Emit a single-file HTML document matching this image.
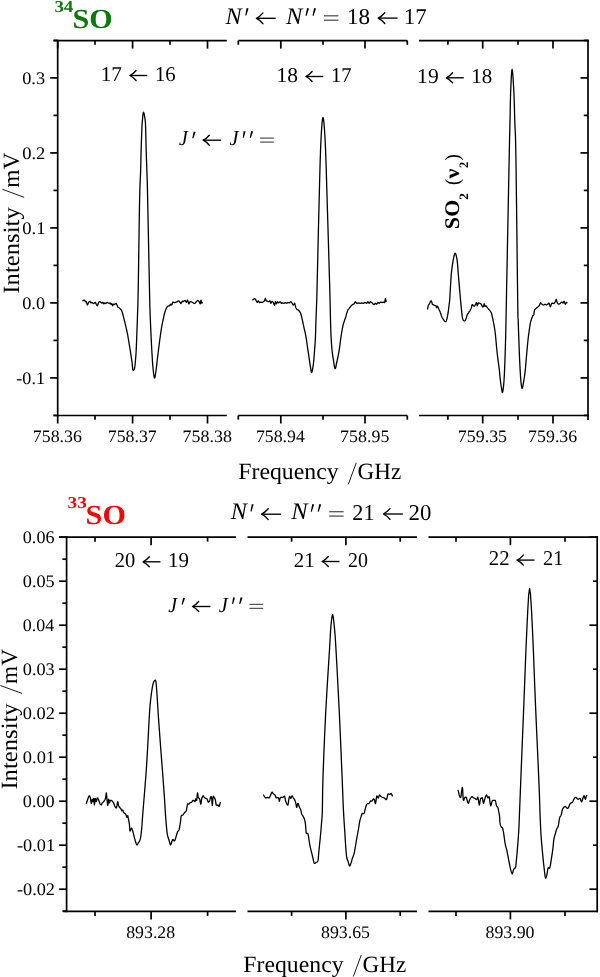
<!DOCTYPE html><html><head><meta charset="utf-8"><style>html,body{margin:0;padding:0;background:#fff;}svg{display:block;will-change:transform;text-rendering:geometricPrecision;}</style></head><body><svg width="600" height="977" viewBox="0 0 600 977">
<rect width="600" height="977" fill="#fff"/>
<line x1="53.50" y1="40.60" x2="226.80" y2="40.60" stroke="#000" stroke-width="1.7"/>
<line x1="238.30" y1="40.60" x2="407.30" y2="40.60" stroke="#000" stroke-width="1.7"/>
<line x1="419.00" y1="40.60" x2="588.90" y2="40.60" stroke="#000" stroke-width="1.7"/>
<line x1="53.50" y1="415.50" x2="226.80" y2="415.50" stroke="#000" stroke-width="1.7"/>
<line x1="238.30" y1="415.50" x2="407.30" y2="415.50" stroke="#000" stroke-width="1.7"/>
<line x1="419.00" y1="415.50" x2="588.90" y2="415.50" stroke="#000" stroke-width="1.7"/>
<line x1="57.70" y1="39.70" x2="57.70" y2="416.40" stroke="#000" stroke-width="1.7"/>
<line x1="588.00" y1="39.70" x2="588.00" y2="420.00" stroke="#000" stroke-width="1.7"/>
<line x1="57.70" y1="415.50" x2="57.70" y2="423.50" stroke="#000" stroke-width="1.7"/>
<line x1="57.70" y1="40.60" x2="57.70" y2="48.60" stroke="#000" stroke-width="1.7"/>
<line x1="95.00" y1="415.50" x2="95.00" y2="419.70" stroke="#000" stroke-width="1.7"/>
<line x1="95.00" y1="40.60" x2="95.00" y2="44.80" stroke="#000" stroke-width="1.7"/>
<line x1="132.60" y1="415.50" x2="132.60" y2="423.50" stroke="#000" stroke-width="1.7"/>
<line x1="132.60" y1="40.60" x2="132.60" y2="48.60" stroke="#000" stroke-width="1.7"/>
<line x1="170.00" y1="415.50" x2="170.00" y2="419.70" stroke="#000" stroke-width="1.7"/>
<line x1="170.00" y1="40.60" x2="170.00" y2="44.80" stroke="#000" stroke-width="1.7"/>
<line x1="207.50" y1="415.50" x2="207.50" y2="423.50" stroke="#000" stroke-width="1.7"/>
<line x1="207.50" y1="40.60" x2="207.50" y2="48.60" stroke="#000" stroke-width="1.7"/>
<line x1="238.30" y1="415.50" x2="238.30" y2="419.70" stroke="#000" stroke-width="1.7"/>
<line x1="238.30" y1="40.60" x2="238.30" y2="44.80" stroke="#000" stroke-width="1.7"/>
<line x1="280.80" y1="415.50" x2="280.80" y2="423.50" stroke="#000" stroke-width="1.7"/>
<line x1="280.80" y1="40.60" x2="280.80" y2="48.60" stroke="#000" stroke-width="1.7"/>
<line x1="323.00" y1="415.50" x2="323.00" y2="419.70" stroke="#000" stroke-width="1.7"/>
<line x1="323.00" y1="40.60" x2="323.00" y2="44.80" stroke="#000" stroke-width="1.7"/>
<line x1="365.00" y1="415.50" x2="365.00" y2="423.50" stroke="#000" stroke-width="1.7"/>
<line x1="365.00" y1="40.60" x2="365.00" y2="48.60" stroke="#000" stroke-width="1.7"/>
<line x1="407.30" y1="415.50" x2="407.30" y2="419.70" stroke="#000" stroke-width="1.7"/>
<line x1="407.30" y1="40.60" x2="407.30" y2="44.80" stroke="#000" stroke-width="1.7"/>
<line x1="447.90" y1="415.50" x2="447.90" y2="419.70" stroke="#000" stroke-width="1.7"/>
<line x1="447.90" y1="40.60" x2="447.90" y2="44.80" stroke="#000" stroke-width="1.7"/>
<line x1="482.70" y1="415.50" x2="482.70" y2="423.50" stroke="#000" stroke-width="1.7"/>
<line x1="482.70" y1="40.60" x2="482.70" y2="48.60" stroke="#000" stroke-width="1.7"/>
<line x1="518.00" y1="415.50" x2="518.00" y2="419.70" stroke="#000" stroke-width="1.7"/>
<line x1="518.00" y1="40.60" x2="518.00" y2="44.80" stroke="#000" stroke-width="1.7"/>
<line x1="553.00" y1="415.50" x2="553.00" y2="423.50" stroke="#000" stroke-width="1.7"/>
<line x1="553.00" y1="40.60" x2="553.00" y2="48.60" stroke="#000" stroke-width="1.7"/>
<line x1="53.50" y1="415.40" x2="57.70" y2="415.40" stroke="#000" stroke-width="1.7"/>
<line x1="583.80" y1="415.40" x2="588.00" y2="415.40" stroke="#000" stroke-width="1.7"/>
<line x1="50.20" y1="377.90" x2="57.70" y2="377.90" stroke="#000" stroke-width="1.7"/>
<line x1="580.50" y1="377.90" x2="588.00" y2="377.90" stroke="#000" stroke-width="1.7"/>
<line x1="53.50" y1="340.40" x2="57.70" y2="340.40" stroke="#000" stroke-width="1.7"/>
<line x1="583.80" y1="340.40" x2="588.00" y2="340.40" stroke="#000" stroke-width="1.7"/>
<line x1="50.20" y1="302.90" x2="57.70" y2="302.90" stroke="#000" stroke-width="1.7"/>
<line x1="580.50" y1="302.90" x2="588.00" y2="302.90" stroke="#000" stroke-width="1.7"/>
<line x1="53.50" y1="265.40" x2="57.70" y2="265.40" stroke="#000" stroke-width="1.7"/>
<line x1="583.80" y1="265.40" x2="588.00" y2="265.40" stroke="#000" stroke-width="1.7"/>
<line x1="50.20" y1="227.90" x2="57.70" y2="227.90" stroke="#000" stroke-width="1.7"/>
<line x1="580.50" y1="227.90" x2="588.00" y2="227.90" stroke="#000" stroke-width="1.7"/>
<line x1="53.50" y1="190.40" x2="57.70" y2="190.40" stroke="#000" stroke-width="1.7"/>
<line x1="583.80" y1="190.40" x2="588.00" y2="190.40" stroke="#000" stroke-width="1.7"/>
<line x1="50.20" y1="152.90" x2="57.70" y2="152.90" stroke="#000" stroke-width="1.7"/>
<line x1="580.50" y1="152.90" x2="588.00" y2="152.90" stroke="#000" stroke-width="1.7"/>
<line x1="53.50" y1="115.40" x2="57.70" y2="115.40" stroke="#000" stroke-width="1.7"/>
<line x1="583.80" y1="115.40" x2="588.00" y2="115.40" stroke="#000" stroke-width="1.7"/>
<line x1="50.20" y1="77.90" x2="57.70" y2="77.90" stroke="#000" stroke-width="1.7"/>
<line x1="580.50" y1="77.90" x2="588.00" y2="77.90" stroke="#000" stroke-width="1.7"/>
<line x1="53.50" y1="40.40" x2="57.70" y2="40.40" stroke="#000" stroke-width="1.7"/>
<line x1="583.80" y1="40.40" x2="588.00" y2="40.40" stroke="#000" stroke-width="1.7"/>
<text transform="translate(22.20,83.90) scale(1.0357,1)" font-family="Liberation Serif" font-weight="normal" font-style="normal" font-size="17.70" fill="#000">0.3</text>
<text transform="translate(22.19,158.90) scale(1.0501,1)" font-family="Liberation Serif" font-weight="normal" font-style="normal" font-size="17.70" fill="#000">0.2</text>
<text transform="translate(22.19,233.90) scale(1.0546,1)" font-family="Liberation Serif" font-weight="normal" font-style="normal" font-size="17.70" fill="#000">0.1</text>
<text transform="translate(22.20,308.90) scale(1.0348,1)" font-family="Liberation Serif" font-weight="normal" font-style="normal" font-size="17.70" fill="#000">0.0</text>
<text transform="translate(16.33,383.90) scale(1.0228,1)" font-family="Liberation Serif" font-weight="normal" font-style="normal" font-size="17.70" fill="#000">-0.1</text>
<text transform="translate(32.82,441.50) scale(1.0263,1)" font-family="Liberation Serif" font-weight="normal" font-style="normal" font-size="17.40" fill="#000">758.36</text>
<text transform="translate(107.72,441.50) scale(1.0259,1)" font-family="Liberation Serif" font-weight="normal" font-style="normal" font-size="17.40" fill="#000">758.37</text>
<text transform="translate(182.62,441.50) scale(1.0295,1)" font-family="Liberation Serif" font-weight="normal" font-style="normal" font-size="17.40" fill="#000">758.38</text>
<text transform="translate(255.93,441.50) scale(1.0209,1)" font-family="Liberation Serif" font-weight="normal" font-style="normal" font-size="17.40" fill="#000">758.94</text>
<text transform="translate(340.12,441.50) scale(1.0299,1)" font-family="Liberation Serif" font-weight="normal" font-style="normal" font-size="17.40" fill="#000">758.95</text>
<text transform="translate(457.82,441.50) scale(1.0299,1)" font-family="Liberation Serif" font-weight="normal" font-style="normal" font-size="17.40" fill="#000">759.35</text>
<text transform="translate(528.12,441.50) scale(1.0263,1)" font-family="Liberation Serif" font-weight="normal" font-style="normal" font-size="17.40" fill="#000">759.36</text>
<text transform="translate(238.32,479.25) scale(1.0197,1)" font-family="Liberation Serif" font-weight="normal" font-style="normal" font-size="23.30" fill="#000">Frequency</text>
<line x1="348.30" y1="484.30" x2="356.30" y2="462.70" stroke="#000" stroke-width="0.9" stroke-linecap="butt"/>
<text transform="translate(357.55,479.25) scale(0.9908,1)" font-family="Liberation Serif" font-weight="normal" font-style="normal" font-size="23.30" fill="#000">GHz</text>
<g transform="translate(18.95,292.8) rotate(-90)">
<text transform="translate(-0.89,0.00) scale(1.0607,1)" font-family="Liberation Serif" font-weight="normal" font-style="normal" font-size="23.30" fill="#000">Intensity</text>
<line x1="95.50" y1="5.20" x2="103.50" y2="-16.50" stroke="#000" stroke-width="0.9" stroke-linecap="butt"/>
<text transform="translate(105.11,0.00) scale(1.0029,1)" font-family="Liberation Serif" font-weight="normal" font-style="normal" font-size="23.30" fill="#000">mV</text>
</g>
<text transform="translate(54.39,12.00) scale(1.1425,1)" font-family="Liberation Serif" font-weight="bold" font-style="normal" font-size="16.60" fill="#0c780c">34</text>
<text transform="translate(72.39,27.60) scale(1.0941,1)" font-family="Liberation Serif" font-weight="bold" font-style="normal" font-size="27.60" fill="#0c780c">SO</text>
<text transform="translate(225.43,23.50) scale(1.0246,1)" font-family="Liberation Serif" font-weight="normal" font-style="italic" font-size="23.70" fill="#000">N</text>
<path d="M246.60,8.00 L248.50,8.50 L246.25,15.75 L245.25,15.35 Z" fill="#000"/>
<path d="M256.90,18.30 L275.70,18.30" stroke="#000" stroke-width="1.35" fill="none"/>
<path d="M263.00,12.90 Q259.80,16.70 256.40,18.30 Q259.80,19.90 263.00,23.70" stroke="#000" stroke-width="1.35" fill="none" stroke-linecap="round" stroke-linejoin="round"/>
<text transform="translate(285.98,23.50) scale(1.0363,1)" font-family="Liberation Serif" font-weight="normal" font-style="italic" font-size="23.70" fill="#000">N</text>
<path d="M307.10,8.00 L309.00,8.50 L306.50,16.00 L305.50,15.60 Z" fill="#000"/>
<path d="M314.10,8.00 L316.00,8.50 L313.50,16.00 L312.50,15.60 Z" fill="#000"/>
<rect x="324.00" y="15.15" width="14.40" height="1.3" fill="#555555"/>
<rect x="324.00" y="19.55" width="14.40" height="1.3" fill="#555555"/>
<text transform="translate(346.97,23.60) scale(1.0226,1)" font-family="Liberation Serif" font-weight="normal" font-style="normal" font-size="22.60" fill="#000">18</text>
<path d="M378.70,18.10 L397.60,18.10" stroke="#000" stroke-width="1.35" fill="none"/>
<path d="M384.80,12.70 Q381.60,16.50 378.20,18.10 Q381.60,19.70 384.80,23.50" stroke="#000" stroke-width="1.35" fill="none" stroke-linecap="round" stroke-linejoin="round"/>
<text transform="translate(403.68,23.60) scale(1.0169,1)" font-family="Liberation Serif" font-weight="normal" font-style="normal" font-size="22.60" fill="#000">17</text>
<text transform="translate(100.63,80.70) scale(1.0087,1)" font-family="Liberation Serif" font-weight="normal" font-style="normal" font-size="21.10" fill="#000">17</text>
<path d="M130.40,75.50 L147.30,75.50" stroke="#000" stroke-width="1.35" fill="none"/>
<path d="M136.10,70.50 Q133.30,73.90 129.90,75.50 Q133.30,77.10 136.10,80.50" stroke="#000" stroke-width="1.35" fill="none" stroke-linecap="round" stroke-linejoin="round"/>
<text transform="translate(154.88,80.70) scale(0.9830,1)" font-family="Liberation Serif" font-weight="normal" font-style="normal" font-size="21.10" fill="#000">16</text>
<text transform="translate(276.61,81.70) scale(1.0194,1)" font-family="Liberation Serif" font-weight="normal" font-style="normal" font-size="21.10" fill="#000">18</text>
<path d="M306.40,76.50 L323.30,76.50" stroke="#000" stroke-width="1.35" fill="none"/>
<path d="M312.10,71.50 Q309.30,74.90 305.90,76.50 Q309.30,78.10 312.10,81.50" stroke="#000" stroke-width="1.35" fill="none" stroke-linecap="round" stroke-linejoin="round"/>
<text transform="translate(330.88,81.70) scale(0.9819,1)" font-family="Liberation Serif" font-weight="normal" font-style="normal" font-size="21.10" fill="#000">17</text>
<text transform="translate(417.10,83.00) scale(1.0228,1)" font-family="Liberation Serif" font-weight="normal" font-style="normal" font-size="21.10" fill="#000">19</text>
<path d="M446.90,77.80 L463.80,77.80" stroke="#000" stroke-width="1.35" fill="none"/>
<path d="M452.60,72.80 Q449.80,76.20 446.40,77.80 Q449.80,79.40 452.60,82.80" stroke="#000" stroke-width="1.35" fill="none" stroke-linecap="round" stroke-linejoin="round"/>
<text transform="translate(471.36,83.00) scale(0.9923,1)" font-family="Liberation Serif" font-weight="normal" font-style="normal" font-size="21.10" fill="#000">18</text>
<text transform="translate(178.90,145.20) scale(0.9290,1)" font-family="Liberation Serif" font-weight="normal" font-style="italic" font-size="21.40" fill="#000">J</text>
<path d="M193.70,131.40 L195.60,131.90 L193.25,138.50 L192.25,138.10 Z" fill="#000"/>
<path d="M203.60,140.20 L221.00,140.20" stroke="#000" stroke-width="1.35" fill="none"/>
<path d="M209.30,135.20 Q206.50,138.60 203.10,140.20 Q206.50,141.80 209.30,145.20" stroke="#000" stroke-width="1.35" fill="none" stroke-linecap="round" stroke-linejoin="round"/>
<text transform="translate(229.44,145.20) scale(0.9540,1)" font-family="Liberation Serif" font-weight="normal" font-style="italic" font-size="21.40" fill="#000">J</text>
<path d="M243.70,131.00 L245.60,131.50 L243.70,137.90 L242.70,137.50 Z" fill="#000"/>
<path d="M251.20,131.00 L253.10,131.50 L250.75,137.90 L249.75,137.50 Z" fill="#000"/>
<rect x="260.10" y="137.47" width="13.70" height="1.25" fill="#555555"/>
<rect x="260.10" y="141.47" width="13.70" height="1.25" fill="#555555"/>
<g transform="translate(459.25,228.2) rotate(-90)">
<text transform="translate(-1.16,0.00) scale(1.0391,1)" font-family="Liberation Serif" font-weight="bold" font-style="normal" font-size="20.90" fill="#000">S</text>
<text transform="translate(11.53,0.00) scale(1.0446,1)" font-family="Liberation Serif" font-weight="bold" font-style="normal" font-size="20.90" fill="#000">O</text>
<text transform="translate(28.34,8.75) scale(1.0447,1)" font-family="Liberation Serif" font-weight="bold" font-style="normal" font-size="12.80" fill="#000">2</text>
<text transform="translate(43.18,-0.25) scale(0.9252,1)" font-family="Liberation Serif" font-weight="normal" font-style="normal" font-size="20.20" fill="#000">(</text>
<text transform="translate(49.63,0.00) scale(1.0712,1)" font-family="Liberation Serif" font-weight="bold" font-style="normal" font-size="20.60" fill="#000">ν</text>
<text transform="translate(60.17,8.75) scale(0.9788,1)" font-family="Liberation Serif" font-weight="bold" font-style="normal" font-size="12.80" fill="#000">2</text>
<text transform="translate(67.80,-0.25) scale(0.9252,1)" font-family="Liberation Serif" font-weight="normal" font-style="normal" font-size="20.20" fill="#000">)</text>
</g>
<path d="M82.50,301.20 L82.98,300.68 L83.60,300.20 L84.22,300.20 L84.80,300.50 L85.17,301.24 L85.50,301.90 L85.88,301.62 L86.30,301.60 L86.83,303.44 L87.40,305.00 L87.98,303.94 L88.50,302.40 L88.87,302.03 L89.20,301.90 L89.59,301.42 L90.00,301.20 L90.41,301.98 L90.80,302.80 L91.13,302.66 L91.50,302.40 L92.02,302.64 L92.60,303.00 L93.17,303.36 L93.80,303.50 L94.56,302.84 L95.30,302.40 L95.88,303.36 L96.40,304.60 L96.98,305.48 L97.50,305.80 L97.87,304.82 L98.20,303.50 L98.58,302.63 L99.00,302.00 L99.54,301.64 L100.10,301.60 L100.56,302.04 L101.00,302.60 L101.49,302.96 L102.00,303.10 L102.51,302.69 L103.00,302.40 L103.46,303.17 L103.90,303.90 L104.34,303.46 L104.80,302.90 L105.28,303.21 L105.80,303.50 L106.40,302.96 L107.00,302.40 L107.48,302.49 L108.00,302.80 L108.77,303.21 L109.50,303.50 L109.89,303.16 L110.20,302.90 L110.59,303.61 L111.00,304.30 L111.41,303.90 L111.80,303.60 L112.16,304.76 L112.50,305.80 L112.84,305.11 L113.20,304.20 L113.57,304.35 L114.00,304.60 L114.58,304.24 L115.20,303.80 L115.83,303.60 L116.30,303.50 L118.00,307.20 L118.22,307.33 L118.52,307.51 L118.88,307.72 L119.26,307.97 L119.64,308.26 L120.00,308.60 L120.33,308.94 L120.67,309.29 L121.00,309.67 L121.33,310.14 L121.67,310.73 L122.00,311.50 L122.34,312.50 L122.69,313.71 L123.03,315.06 L123.37,316.44 L123.70,317.78 L124.00,319.00 L124.27,320.05 L124.52,321.00 L124.75,321.91 L124.98,322.83 L125.23,323.84 L125.50,325.00 L125.81,326.33 L126.15,327.78 L126.50,329.31 L126.85,330.89 L127.19,332.47 L127.50,334.00 L127.78,335.50 L128.04,337.00 L128.28,338.50 L128.52,340.00 L128.76,341.50 L129.00,343.00 L129.25,344.49 L129.50,345.96 L129.75,347.44 L130.00,348.93 L130.25,350.44 L130.50,352.00 L130.76,353.63 L131.02,355.34 L131.29,357.07 L131.54,358.79 L131.78,360.45 L132.00,362.00 L132.18,363.53 L132.32,365.10 L132.44,366.61 L132.57,367.96 L132.72,369.05 L132.90,369.80 L133.13,370.19 L133.40,370.31 L133.69,370.17 L133.99,369.80 L134.26,369.24 L134.50,368.50 L134.70,367.52 L134.89,366.26 L135.06,364.79 L135.21,363.21 L135.36,361.59 L135.50,360.00 L135.64,358.48 L135.76,356.96 L135.88,355.41 L135.99,353.76 L136.09,351.97 L136.20,350.00 L136.30,347.85 L136.40,345.56 L136.50,343.12 L136.60,340.56 L136.70,337.85 L136.80,335.00 L136.91,332.01 L137.03,328.89 L137.14,325.62 L137.26,322.22 L137.38,318.68 L137.50,315.00 L137.61,311.88 L137.71,309.44 L137.81,306.88 L137.91,303.33 L138.04,297.99 L138.20,290.00 L138.40,278.05 L138.63,262.53 L138.88,245.21 L139.14,227.84 L139.38,212.19 L139.60,200.00 L139.80,191.61 L139.98,185.67 L140.16,181.45 L140.32,178.19 L140.47,175.16 L140.60,171.60 L140.71,167.74 L140.80,164.21 L140.87,160.91 L140.94,157.71 L141.01,154.51 L141.10,151.20 L141.21,147.67 L141.32,143.99 L141.44,140.31 L141.57,136.77 L141.69,133.52 L141.80,130.70 L141.90,128.38 L141.99,126.46 L142.07,124.83 L142.17,123.37 L142.27,121.97 L142.40,120.50 L142.55,118.83 L142.71,117.01 L142.88,115.25 L143.07,113.74 L143.28,112.69 L143.50,112.30 L143.76,112.69 L144.07,113.74 L144.39,115.25 L144.70,117.01 L144.98,118.83 L145.20,120.50 L145.35,121.97 L145.46,123.37 L145.52,124.83 L145.58,126.46 L145.63,128.38 L145.70,130.70 L145.78,133.52 L145.86,136.77 L145.94,140.31 L146.02,143.99 L146.11,147.67 L146.20,151.20 L146.31,154.60 L146.42,158.00 L146.54,161.40 L146.67,164.80 L146.79,168.20 L146.90,171.60 L146.99,174.12 L147.06,175.56 L147.12,177.01 L147.20,179.53 L147.32,184.20 L147.50,192.10 L147.77,204.84 L148.12,221.89 L148.51,241.08 L148.89,260.27 L149.24,277.30 L149.50,290.00 L149.67,297.84 L149.77,302.44 L149.83,304.87 L149.87,306.22 L149.92,307.57 L150.00,310.00 L150.11,313.33 L150.24,316.67 L150.37,320.00 L150.51,323.33 L150.65,326.67 L150.80,330.00 L150.95,333.36 L151.11,336.74 L151.28,340.12 L151.44,343.48 L151.62,346.78 L151.80,350.00 L151.98,353.21 L152.17,356.44 L152.37,359.62 L152.57,362.67 L152.78,365.49 L153.00,368.00 L153.23,370.31 L153.49,372.52 L153.74,374.50 L154.00,376.15 L154.26,377.35 L154.50,378.00 L154.72,378.02 L154.93,377.48 L155.14,376.50 L155.34,375.19 L155.56,373.65 L155.80,372.00 L156.06,370.15 L156.33,368.00 L156.61,365.62 L156.90,363.11 L157.19,360.54 L157.50,358.00 L157.82,355.43 L158.14,352.74 L158.48,350.00 L158.82,347.26 L159.16,344.57 L159.50,342.00 L159.83,339.50 L160.17,337.04 L160.50,334.62 L160.83,332.30 L161.17,330.08 L161.50,328.00 L161.84,326.06 L162.19,324.23 L162.53,322.52 L162.87,320.91 L163.20,319.40 L163.50,318.00 L163.78,316.71 L164.04,315.55 L164.28,314.48 L164.52,313.51 L164.76,312.60 L165.00,311.75 L165.25,310.96 L165.50,310.25 L165.75,309.60 L166.00,309.02 L166.25,308.49 L166.50,308.00 L166.75,307.56 L167.00,307.17 L167.25,306.84 L167.50,306.55 L167.75,306.31 L168.00,306.10 L168.27,305.95 L168.56,305.86 L168.84,305.81 L169.11,305.78 L169.34,305.77 L169.50,305.75 L170.60,304.25 L171.10,304.81 L171.75,305.00 L172.30,303.50 L172.90,302.00 L173.61,302.23 L174.40,302.75 L175.36,302.43 L176.25,302.00 L176.78,301.91 L177.20,301.80 L177.62,301.29 L178.10,300.90 L178.82,301.07 L179.60,301.60 L180.26,302.73 L180.90,303.50 L181.60,302.47 L182.25,301.25 L182.75,301.38 L183.20,301.70 L183.64,301.35 L184.10,300.90 L184.66,300.53 L185.25,300.50 L185.83,301.57 L186.40,302.40 L186.93,301.13 L187.50,300.10 L188.19,302.00 L188.90,303.90 L189.49,302.96 L190.10,301.60 L190.83,301.61 L191.60,302.00 L192.35,302.35 L193.10,302.75 L193.85,303.27 L194.60,303.50 L195.35,302.89 L196.10,302.00 L196.85,301.09 L197.60,300.50 L198.37,300.81 L199.10,301.60 L199.72,303.06 L200.25,303.90 L200.65,301.96 L201.00,300.10 L201.38,301.42 L201.75,303.10 L202.17,302.84 L202.50,302.20" stroke="#000" stroke-width="1.3" fill="none" stroke-linejoin="round"/>
<path d="M252.50,300.40 L253.28,299.55 L254.20,298.75 L254.82,298.72 L255.40,299.20 L256.07,300.43 L256.70,301.70 L257.13,302.36 L257.50,302.50 L257.87,301.59 L258.30,300.80 L258.93,301.57 L259.60,302.50 L260.20,302.38 L260.80,302.10 L261.45,302.33 L262.10,302.50 L262.70,302.18 L263.30,301.70 L263.98,301.36 L264.60,300.80 L265.03,299.34 L265.40,298.30 L265.80,299.37 L266.25,300.80 L266.85,301.15 L267.50,301.25 L268.12,301.56 L268.75,301.70 L269.40,301.12 L270.00,300.80 L270.40,302.12 L270.80,303.30 L271.43,302.35 L272.10,301.25 L272.70,301.57 L273.30,302.50 L273.98,304.26 L274.60,305.40 L275.01,303.60 L275.40,301.70 L275.94,302.62 L276.50,303.75 L277.01,302.78 L277.50,301.70 L277.96,302.14 L278.40,302.80 L278.81,302.76 L279.20,302.50 L279.60,302.14 L280.00,301.90 L280.40,302.11 L280.80,302.50 L281.19,303.02 L281.60,303.40 L281.99,303.18 L282.50,302.90 L283.33,303.12 L284.20,303.30 L284.82,302.88 L285.40,302.50 L286.05,302.90 L286.70,303.30 L287.30,302.93 L287.90,302.50 L288.52,302.72 L289.20,302.90 L290.00,302.22 L290.80,301.70 L291.48,302.32 L292.10,303.30 L292.70,304.36 L293.30,305.00 L294.03,304.26 L294.60,303.30 L295.80,307.50 L295.94,307.75 L296.14,308.11 L296.38,308.52 L296.63,308.95 L296.87,309.32 L297.10,309.60 L297.30,309.75 L297.50,309.81 L297.70,309.83 L297.90,309.83 L298.10,309.88 L298.30,310.00 L298.52,310.21 L298.74,310.49 L298.97,310.80 L299.19,311.12 L299.41,311.43 L299.60,311.70 L299.77,311.87 L299.90,311.96 L300.03,312.04 L300.16,312.17 L300.31,312.43 L300.50,312.90 L300.73,313.59 L300.98,314.46 L301.26,315.46 L301.54,316.54 L301.83,317.67 L302.10,318.80 L302.36,319.93 L302.61,321.10 L302.87,322.32 L303.13,323.59 L303.40,324.91 L303.70,326.30 L304.03,327.77 L304.38,329.31 L304.75,330.91 L305.12,332.55 L305.47,334.22 L305.80,335.90 L306.10,337.61 L306.37,339.36 L306.63,341.13 L306.89,342.92 L307.14,344.72 L307.40,346.50 L307.67,348.28 L307.93,350.06 L308.20,351.84 L308.47,353.63 L308.73,355.42 L309.00,357.20 L309.27,359.05 L309.55,360.99 L309.83,362.93 L310.10,364.79 L310.36,366.47 L310.60,367.90 L310.81,369.16 L310.99,370.34 L311.15,371.36 L311.31,372.11 L311.49,372.52 L311.70,372.50 L311.94,371.95 L312.22,370.93 L312.51,369.56 L312.79,367.97 L313.06,366.31 L313.30,364.70 L313.50,363.15 L313.67,361.54 L313.83,359.86 L313.98,358.07 L314.13,356.12 L314.30,354.00 L314.48,351.64 L314.68,349.06 L314.88,346.33 L315.07,343.53 L315.25,340.73 L315.40,338.00 L315.52,335.33 L315.61,332.67 L315.68,330.00 L315.75,327.33 L315.82,324.67 L315.90,322.00 L316.00,319.33 L316.10,316.67 L316.20,314.00 L316.30,311.33 L316.40,308.67 L316.50,306.00 L316.57,304.16 L316.61,303.32 L316.66,302.48 L316.72,300.64 L316.83,296.82 L317.00,290.00 L317.26,279.19 L317.60,264.99 L317.97,248.80 L318.37,232.02 L318.75,216.05 L319.10,202.30 L319.40,190.50 L319.68,179.47 L319.94,169.26 L320.21,159.90 L320.49,151.44 L320.80,143.90 L321.14,137.05 L321.49,130.81 L321.86,125.46 L322.24,121.28 L322.62,118.57 L323.00,117.60 L323.38,118.57 L323.77,121.28 L324.17,125.46 L324.56,130.81 L324.94,137.05 L325.30,143.90 L325.63,151.44 L325.94,159.90 L326.23,169.26 L326.53,179.47 L326.85,190.50 L327.20,202.30 L327.62,215.99 L328.09,231.82 L328.59,248.47 L329.06,264.60 L329.48,278.89 L329.80,290.00 L330.00,297.39 L330.12,302.01 L330.18,304.79 L330.20,306.65 L330.24,308.51 L330.30,311.30 L330.39,314.92 L330.48,318.63 L330.57,322.33 L330.67,325.96 L330.78,329.44 L330.90,332.70 L331.04,335.74 L331.19,338.63 L331.35,341.37 L331.52,343.97 L331.71,346.41 L331.90,348.70 L332.11,350.79 L332.32,352.68 L332.55,354.41 L332.79,356.06 L333.04,357.67 L333.30,359.30 L333.58,361.12 L333.88,363.10 L334.19,365.05 L334.50,366.77 L334.81,368.05 L335.10,368.70 L335.37,368.62 L335.63,367.95 L335.88,366.85 L336.13,365.47 L336.40,363.97 L336.70,362.50 L337.03,361.04 L337.39,359.46 L337.77,357.75 L338.15,355.92 L338.53,353.97 L338.90,351.90 L339.26,349.62 L339.61,347.10 L339.96,344.47 L340.30,341.82 L340.65,339.26 L341.00,336.90 L341.34,334.72 L341.68,332.64 L342.01,330.64 L342.36,328.74 L342.72,326.93 L343.10,325.20 L343.54,323.54 L344.02,321.94 L344.53,320.43 L345.01,319.04 L345.45,317.78 L345.80,316.70 L346.05,315.84 L346.22,315.19 L346.34,314.68 L346.44,314.24 L346.55,313.80 L346.70,313.30 L346.88,312.73 L347.07,312.13 L347.27,311.54 L347.48,310.98 L347.69,310.46 L347.90,310.00 L348.11,309.63 L348.31,309.33 L348.52,309.07 L348.74,308.83 L348.96,308.59 L349.20,308.30 L349.45,307.97 L349.71,307.63 L349.98,307.27 L350.25,306.92 L350.52,306.57 L350.80,306.25 L351.10,305.93 L351.42,305.61 L351.75,305.30 L352.06,305.01 L352.31,304.77 L352.50,304.60 L354.20,303.75 L354.72,302.62 L355.40,301.70 L356.02,302.40 L356.70,303.30 L357.48,303.18 L358.30,302.90 L359.14,303.10 L360.00,303.30 L360.86,303.10 L361.70,302.90 L362.50,303.12 L363.30,303.30 L364.14,302.88 L365.00,302.50 L365.88,302.95 L366.70,303.30 L367.32,302.45 L367.90,301.70 L368.55,302.50 L369.20,303.30 L369.80,302.55 L370.40,301.70 L371.05,301.92 L371.70,302.50 L372.30,303.12 L372.90,303.75 L373.55,304.33 L374.20,304.60 L374.80,303.95 L375.40,303.30 L376.05,303.77 L376.70,304.20 L377.30,303.36 L377.90,302.50 L378.55,302.87 L379.20,303.30 L379.80,302.73 L380.40,302.10 L381.02,302.25 L381.70,302.50 L382.50,302.30 L383.30,302.10 L384.00,302.51 L384.60,302.50 L385.03,300.44 L385.40,298.75 L385.87,300.19 L386.25,302.10" stroke="#000" stroke-width="1.3" fill="none" stroke-linejoin="round"/>
<path d="M427.50,309.50 L427.55,309.19 L427.63,308.75 L427.71,308.23 L427.81,307.67 L427.91,307.09 L428.01,306.55 L428.11,306.07 L428.20,305.70 L428.29,305.44 L428.37,305.25 L428.45,305.12 L428.54,305.02 L428.62,304.94 L428.71,304.85 L428.80,304.75 L428.90,304.60 L429.00,304.42 L429.10,304.23 L429.21,304.02 L429.32,303.81 L429.43,303.59 L429.55,303.37 L429.67,303.14 L429.80,302.90 L429.94,302.63 L430.09,302.31 L430.24,301.97 L430.40,301.64 L430.56,301.33 L430.71,301.07 L430.86,300.88 L431.00,300.80 L431.13,300.83 L431.26,300.96 L431.38,301.15 L431.49,301.41 L431.60,301.69 L431.71,301.98 L431.81,302.26 L431.90,302.50 L431.98,302.73 L432.04,302.98 L432.10,303.23 L432.15,303.49 L432.20,303.73 L432.26,303.95 L432.32,304.15 L432.40,304.30 L432.49,304.41 L432.59,304.47 L432.69,304.50 L432.79,304.51 L432.91,304.51 L433.03,304.52 L433.16,304.54 L433.30,304.60 L433.45,304.69 L433.62,304.80 L433.80,304.92 L433.98,305.06 L434.17,305.19 L434.35,305.31 L434.53,305.42 L434.70,305.50 L434.86,305.55 L435.03,305.56 L435.19,305.55 L435.34,305.54 L435.50,305.53 L435.64,305.55 L435.78,305.60 L435.90,305.70 L436.01,305.88 L436.11,306.13 L436.20,306.43 L436.28,306.75 L436.36,307.05 L436.44,307.32 L436.52,307.51 L436.60,307.60 L436.69,307.56 L436.77,307.42 L436.85,307.19 L436.94,306.93 L437.02,306.66 L437.11,306.43 L437.20,306.26 L437.30,306.20 L437.40,306.23 L437.51,306.33 L437.62,306.48 L437.73,306.67 L437.85,306.89 L437.96,307.12 L438.08,307.36 L438.20,307.60 L438.32,307.85 L438.45,308.12 L438.57,308.41 L438.70,308.72 L438.83,309.03 L438.95,309.33 L439.08,309.63 L439.20,309.90 L439.32,310.16 L439.44,310.40 L439.55,310.64 L439.67,310.88 L439.78,311.11 L439.89,311.33 L440.00,311.57 L440.10,311.80 L440.20,312.03 L440.29,312.27 L440.38,312.49 L440.46,312.73 L440.55,312.96 L440.63,313.20 L440.71,313.44 L440.80,313.70 L440.89,313.97 L440.97,314.26 L441.05,314.55 L441.14,314.85 L441.22,315.15 L441.31,315.44 L441.40,315.73 L441.50,316.00 L441.60,316.26 L441.70,316.51 L441.81,316.75 L441.92,316.98 L442.03,317.21 L442.15,317.44 L442.27,317.67 L442.40,317.90 L442.54,318.13 L442.69,318.37 L442.84,318.60 L443.00,318.83 L443.16,319.06 L443.31,319.28 L443.46,319.49 L443.60,319.70 L443.73,319.90 L443.84,320.10 L443.96,320.29 L444.06,320.48 L444.17,320.66 L444.28,320.82 L444.38,320.97 L444.50,321.10 L444.62,321.21 L444.75,321.31 L444.88,321.40 L445.01,321.47 L445.14,321.53 L445.27,321.57 L445.39,321.59 L445.50,321.60 L445.60,321.60 L445.70,321.59 L445.78,321.56 L445.87,321.53 L445.95,321.46 L446.03,321.38 L446.11,321.26 L446.20,321.10 L446.29,320.91 L446.38,320.68 L446.46,320.41 L446.55,320.13 L446.64,319.81 L446.72,319.49 L446.81,319.15 L446.90,318.80 L446.99,318.44 L447.07,318.07 L447.16,317.68 L447.25,317.27 L447.34,316.85 L447.43,316.41 L447.51,315.96 L447.60,315.50 L447.69,315.03 L447.78,314.55 L447.86,314.05 L447.95,313.54 L448.04,313.02 L448.13,312.47 L448.21,311.90 L448.30,311.30 L448.39,310.67 L448.48,310.01 L448.56,309.32 L448.65,308.61 L448.74,307.89 L448.82,307.16 L448.91,306.43 L449.00,305.70 L449.09,304.97 L449.18,304.24 L449.28,303.51 L449.37,302.77 L449.46,302.02 L449.55,301.26 L449.63,300.49 L449.70,299.70 L449.76,298.98 L449.80,298.36 L449.84,297.77 L449.87,297.15 L449.90,296.43 L449.95,295.54 L450.01,294.42 L450.10,293.00 L450.21,291.19 L450.33,289.01 L450.47,286.58 L450.62,283.99 L450.78,281.35 L450.95,278.77 L451.12,276.35 L451.30,274.20 L451.49,272.27 L451.68,270.45 L451.88,268.72 L452.09,267.08 L452.31,265.53 L452.54,264.05 L452.76,262.64 L453.00,261.30 L453.24,259.95 L453.50,258.58 L453.76,257.25 L454.03,256.01 L454.30,254.92 L454.57,254.05 L454.84,253.46 L455.10,253.20 L455.36,253.30 L455.63,253.72 L455.89,254.41 L456.16,255.32 L456.41,256.40 L456.66,257.60 L456.89,258.89 L457.10,260.20 L457.29,261.59 L457.45,263.13 L457.60,264.78 L457.73,266.54 L457.86,268.39 L458.00,270.29 L458.14,272.23 L458.30,274.20 L458.47,276.24 L458.66,278.39 L458.84,280.61 L459.04,282.88 L459.23,285.16 L459.43,287.41 L459.62,289.60 L459.80,291.70 L459.98,293.73 L460.16,295.72 L460.33,297.69 L460.51,299.61 L460.68,301.49 L460.85,303.32 L461.03,305.09 L461.20,306.80 L461.37,308.49 L461.53,310.18 L461.69,311.85 L461.86,313.45 L462.02,314.95 L462.20,316.32 L462.39,317.51 L462.60,318.50 L462.83,319.27 L463.09,319.85 L463.37,320.26 L463.65,320.54 L463.93,320.70 L464.21,320.78 L464.47,320.81 L464.70,320.80 L464.91,320.72 L465.11,320.54 L465.29,320.26 L465.46,319.91 L465.62,319.52 L465.78,319.11 L465.94,318.69 L466.10,318.30 L466.25,317.90 L466.40,317.47 L466.54,317.01 L466.67,316.54 L466.81,316.07 L466.95,315.61 L467.09,315.19 L467.25,314.80 L467.42,314.46 L467.59,314.14 L467.77,313.85 L467.95,313.58 L468.14,313.31 L468.33,313.05 L468.51,312.78 L468.70,312.50 L468.89,312.21 L469.08,311.93 L469.28,311.64 L469.47,311.36 L469.66,311.07 L469.85,310.78 L470.03,310.49 L470.20,310.20 L470.36,309.91 L470.51,309.63 L470.65,309.34 L470.79,309.06 L470.92,308.76 L471.05,308.46 L471.17,308.14 L471.30,307.80 L471.42,307.41 L471.53,306.95 L471.64,306.47 L471.74,305.98 L471.85,305.51 L471.96,305.11 L472.07,304.79 L472.20,304.60 L472.34,304.55 L472.48,304.61 L472.63,304.77 L472.79,304.98 L472.94,305.22 L473.10,305.46 L473.25,305.66 L473.40,305.80 L473.54,305.90 L473.68,305.99 L473.82,306.08 L473.95,306.16 L474.08,306.20 L474.22,306.21 L474.36,306.18 L474.50,306.10 L474.65,305.95 L474.80,305.73 L474.96,305.46 L475.11,305.16 L475.27,304.84 L475.42,304.53 L475.56,304.25 L475.70,304.00 L475.83,303.76 L475.95,303.49 L476.07,303.22 L476.18,302.97 L476.29,302.76 L476.40,302.61 L476.50,302.55 L476.60,302.60 L476.70,302.82 L476.78,303.21 L476.86,303.72 L476.94,304.28 L477.02,304.82 L477.11,305.30 L477.20,305.65 L477.30,305.80 L477.41,305.73 L477.52,305.50 L477.64,305.14 L477.77,304.70 L477.90,304.24 L478.03,303.80 L478.16,303.44 L478.30,303.20 L478.44,303.07 L478.59,303.00 L478.74,302.99 L478.89,303.00 L479.04,303.05 L479.20,303.10 L479.35,303.16 L479.50,303.20 L479.65,303.24 L479.80,303.28 L479.95,303.33 L480.11,303.38 L480.26,303.45 L480.41,303.54 L480.55,303.63 L480.70,303.75 L480.84,303.89 L480.99,304.04 L481.13,304.21 L481.27,304.40 L481.41,304.59 L481.54,304.79 L481.67,305.00 L481.80,305.20 L481.92,305.43 L482.04,305.70 L482.15,305.98 L482.26,306.27 L482.37,306.53 L482.48,306.75 L482.59,306.92 L482.70,307.00 L482.81,307.00 L482.93,306.93 L483.05,306.81 L483.17,306.64 L483.28,306.44 L483.40,306.23 L483.50,306.01 L483.60,305.80 L483.69,305.55 L483.77,305.24 L483.84,304.89 L483.91,304.53 L483.97,304.21 L484.04,303.95 L484.12,303.79 L484.20,303.75 L484.29,303.88 L484.38,304.16 L484.48,304.54 L484.58,304.98 L484.68,305.44 L484.79,305.86 L484.89,306.19 L485.00,306.40 L485.11,306.47 L485.21,306.43 L485.32,306.32 L485.43,306.18 L485.54,306.02 L485.65,305.88 L485.77,305.80 L485.90,305.80 L486.03,305.88 L486.17,306.01 L486.32,306.18 L486.47,306.38 L486.62,306.59 L486.78,306.82 L486.94,307.04 L487.10,307.25 L487.26,307.45 L487.43,307.67 L487.61,307.88 L487.78,308.11 L487.96,308.33 L488.14,308.56 L488.32,308.78 L488.50,309.00 L488.68,309.22 L488.88,309.44 L489.07,309.66 L489.26,309.88 L489.46,310.09 L489.64,310.31 L489.83,310.53 L490.00,310.75 L490.17,310.96 L490.33,311.16 L490.49,311.36 L490.64,311.55 L490.79,311.76 L490.94,311.98 L491.07,312.23 L491.20,312.50 L491.32,312.80 L491.43,313.12 L491.52,313.45 L491.62,313.80 L491.71,314.17 L491.80,314.56 L491.90,314.97 L492.00,315.40 L492.11,315.84 L492.21,316.29 L492.32,316.76 L492.43,317.25 L492.54,317.76 L492.65,318.31 L492.77,318.88 L492.90,319.50 L493.04,320.16 L493.18,320.86 L493.33,321.59 L493.49,322.36 L493.64,323.14 L493.80,323.95 L493.95,324.77 L494.10,325.60 L494.24,326.43 L494.38,327.25 L494.52,328.09 L494.66,328.94 L494.80,329.83 L494.93,330.76 L495.07,331.75 L495.20,332.80 L495.33,333.93 L495.46,335.14 L495.58,336.41 L495.71,337.71 L495.83,339.04 L495.95,340.38 L496.08,341.70 L496.20,343.00 L496.32,344.29 L496.45,345.60 L496.57,346.91 L496.70,348.23 L496.82,349.52 L496.95,350.79 L497.07,352.02 L497.20,353.20 L497.32,354.32 L497.45,355.39 L497.57,356.42 L497.69,357.42 L497.82,358.41 L497.94,359.40 L498.07,360.39 L498.20,361.40 L498.33,362.41 L498.47,363.40 L498.61,364.39 L498.75,365.38 L498.89,366.38 L499.03,367.41 L499.17,368.48 L499.30,369.60 L499.43,370.79 L499.55,372.06 L499.67,373.37 L499.79,374.70 L499.91,376.03 L500.04,377.34 L500.17,378.61 L500.30,379.80 L500.44,380.95 L500.59,382.08 L500.74,383.19 L500.89,384.26 L501.05,385.29 L501.20,386.26 L501.35,387.17 L501.50,388.00 L501.64,388.83 L501.78,389.72 L501.91,390.58 L502.04,391.37 L502.18,392.01 L502.31,392.44 L502.45,392.59 L502.60,392.40 L502.76,391.83 L502.92,390.94 L503.09,389.77 L503.27,388.39 L503.44,386.85 L503.61,385.22 L503.76,383.55 L503.90,381.90 L504.02,380.24 L504.14,378.51 L504.24,376.70 L504.34,374.82 L504.43,372.86 L504.52,370.82 L504.61,368.70 L504.70,366.50 L504.79,364.19 L504.89,361.75 L504.98,359.22 L505.07,356.62 L505.16,353.98 L505.24,351.32 L505.32,348.69 L505.40,346.10 L505.47,343.58 L505.54,341.10 L505.60,338.64 L505.66,336.18 L505.72,333.67 L505.78,331.09 L505.84,328.41 L505.90,325.60 L505.95,323.45 L505.97,322.31 L505.99,321.52 L506.01,320.44 L506.04,318.41 L506.11,314.76 L506.23,308.84 L506.40,300.00 L506.65,287.03 L506.99,270.03 L507.37,250.33 L507.78,229.24 L508.20,208.06 L508.59,188.12 L508.93,170.73 L509.20,157.20 L509.40,147.57 L509.54,140.61 L509.65,135.71 L509.73,132.29 L509.80,129.75 L509.85,127.48 L509.92,124.90 L510.00,121.40 L510.09,117.25 L510.17,113.15 L510.24,109.10 L510.31,105.14 L510.39,101.30 L510.48,97.59 L510.58,94.05 L510.70,90.70 L510.84,87.30 L510.99,83.72 L511.16,80.15 L511.34,76.80 L511.52,73.85 L511.71,71.51 L511.91,69.96 L512.10,69.40 L512.30,69.96 L512.52,71.51 L512.75,73.85 L512.98,76.80 L513.20,80.15 L513.42,83.72 L513.62,87.30 L513.80,90.70 L513.96,94.05 L514.10,97.59 L514.22,101.30 L514.34,105.14 L514.45,109.10 L514.56,113.15 L514.67,117.25 L514.80,121.40 L514.93,124.90 L515.05,127.48 L515.17,129.75 L515.30,132.29 L515.43,135.71 L515.57,140.61 L515.73,147.57 L515.90,157.20 L516.10,170.77 L516.33,188.24 L516.58,208.29 L516.84,229.56 L517.09,250.71 L517.32,270.39 L517.53,287.27 L517.70,300.00 L517.82,308.42 L517.91,313.73 L517.97,316.65 L518.02,317.90 L518.05,318.19 L518.09,318.25 L518.14,318.78 L518.20,320.50 L518.28,323.05 L518.36,325.60 L518.44,328.15 L518.53,330.70 L518.62,333.25 L518.71,335.80 L518.81,338.35 L518.90,340.90 L518.99,343.47 L519.09,346.07 L519.18,348.67 L519.27,351.27 L519.37,353.86 L519.48,356.42 L519.58,358.94 L519.70,361.40 L519.82,363.87 L519.95,366.38 L520.08,368.89 L520.22,371.35 L520.36,373.72 L520.50,375.95 L520.65,377.99 L520.80,379.80 L520.95,381.44 L521.11,382.97 L521.26,384.37 L521.42,385.60 L521.59,386.64 L521.76,387.45 L521.93,388.02 L522.10,388.30 L522.28,388.24 L522.46,387.84 L522.65,387.16 L522.84,386.27 L523.03,385.24 L523.22,384.12 L523.41,382.99 L523.60,381.90 L523.79,380.83 L523.98,379.69 L524.17,378.50 L524.36,377.24 L524.55,375.93 L524.74,374.55 L524.92,373.11 L525.10,371.60 L525.27,370.00 L525.44,368.31 L525.60,366.53 L525.76,364.70 L525.92,362.84 L526.08,360.97 L526.24,359.11 L526.40,357.30 L526.56,355.48 L526.73,353.63 L526.89,351.76 L527.06,349.89 L527.22,348.06 L527.38,346.29 L527.54,344.59 L527.70,343.00 L527.85,341.53 L528.00,340.16 L528.14,338.88 L528.28,337.65 L528.43,336.45 L528.57,335.26 L528.73,334.05 L528.90,332.80 L529.08,331.49 L529.26,330.13 L529.45,328.76 L529.65,327.39 L529.85,326.06 L530.06,324.78 L530.28,323.59 L530.50,322.50 L530.74,321.51 L530.99,320.58 L531.25,319.71 L531.52,318.91 L531.79,318.18 L532.04,317.51 L532.28,316.92 L532.50,316.40 L532.70,316.00 L532.88,315.74 L533.05,315.58 L533.20,315.47 L533.35,315.38 L533.49,315.26 L533.62,315.06 L533.75,314.75 L533.86,314.31 L533.96,313.76 L534.03,313.15 L534.11,312.51 L534.19,311.87 L534.27,311.26 L534.37,310.71 L534.50,310.25 L534.65,309.89 L534.81,309.59 L534.99,309.35 L535.18,309.14 L535.38,308.95 L535.58,308.78 L535.79,308.60 L536.00,308.40 L536.22,308.20 L536.46,308.00 L536.70,307.81 L536.95,307.63 L537.20,307.45 L537.44,307.27 L537.68,307.09 L537.90,306.90 L538.12,306.70 L538.34,306.49 L538.56,306.27 L538.77,306.06 L538.96,305.85 L539.14,305.67 L539.29,305.52 L539.40,305.40 L540.50,302.75 L541.16,303.45 L542.00,304.25 L542.75,304.77 L543.50,305.00 L544.25,304.62 L545.00,304.25 L545.75,304.65 L546.50,305.00 L547.27,304.55 L548.00,303.90 L548.57,303.19 L549.10,303.10 L549.67,305.14 L550.25,306.90 L550.83,305.69 L551.40,303.90 L551.93,303.29 L552.50,303.10 L553.23,303.39 L554.00,303.50 L554.80,302.52 L555.50,301.25 L555.92,300.02 L556.25,299.40 L556.60,300.47 L557.00,302.00 L557.50,303.11 L558.10,303.90 L558.85,304.09 L559.60,303.90 L560.20,303.37 L560.75,302.75 L561.33,302.23 L561.90,302.00 L562.45,302.62 L563.00,303.10 L563.55,302.06 L564.10,301.25 L564.67,302.75 L565.25,304.25 L565.83,303.47 L566.40,302.40 L566.97,302.63 L567.40,303.10" stroke="#000" stroke-width="1.3" fill="none" stroke-linejoin="round"/>
<line x1="59.00" y1="537.15" x2="236.00" y2="537.15" stroke="#000" stroke-width="1.7"/>
<line x1="247.50" y1="537.15" x2="417.00" y2="537.15" stroke="#000" stroke-width="1.7"/>
<line x1="428.50" y1="537.15" x2="598.00" y2="537.15" stroke="#000" stroke-width="1.7"/>
<line x1="63.30" y1="911.40" x2="236.00" y2="911.40" stroke="#000" stroke-width="1.7"/>
<line x1="247.50" y1="911.40" x2="417.00" y2="911.40" stroke="#000" stroke-width="1.7"/>
<line x1="428.50" y1="911.40" x2="598.00" y2="911.40" stroke="#000" stroke-width="1.7"/>
<line x1="66.60" y1="536.25" x2="66.60" y2="912.30" stroke="#000" stroke-width="1.7"/>
<line x1="597.20" y1="536.25" x2="597.20" y2="912.30" stroke="#000" stroke-width="1.7"/>
<line x1="95.00" y1="911.40" x2="95.00" y2="915.90" stroke="#000" stroke-width="1.7"/>
<line x1="95.00" y1="537.15" x2="95.00" y2="541.65" stroke="#000" stroke-width="1.7"/>
<line x1="151.10" y1="911.40" x2="151.10" y2="919.40" stroke="#000" stroke-width="1.7"/>
<line x1="151.10" y1="537.15" x2="151.10" y2="545.15" stroke="#000" stroke-width="1.7"/>
<line x1="207.60" y1="911.40" x2="207.60" y2="915.90" stroke="#000" stroke-width="1.7"/>
<line x1="207.60" y1="537.15" x2="207.60" y2="541.65" stroke="#000" stroke-width="1.7"/>
<line x1="291.60" y1="911.40" x2="291.60" y2="915.90" stroke="#000" stroke-width="1.7"/>
<line x1="291.60" y1="537.15" x2="291.60" y2="541.65" stroke="#000" stroke-width="1.7"/>
<line x1="345.90" y1="911.40" x2="345.90" y2="919.40" stroke="#000" stroke-width="1.7"/>
<line x1="345.90" y1="537.15" x2="345.90" y2="545.15" stroke="#000" stroke-width="1.7"/>
<line x1="400.20" y1="911.40" x2="400.20" y2="915.90" stroke="#000" stroke-width="1.7"/>
<line x1="400.20" y1="537.15" x2="400.20" y2="541.65" stroke="#000" stroke-width="1.7"/>
<line x1="456.00" y1="911.40" x2="456.00" y2="915.90" stroke="#000" stroke-width="1.7"/>
<line x1="456.00" y1="537.15" x2="456.00" y2="541.65" stroke="#000" stroke-width="1.7"/>
<line x1="510.40" y1="911.40" x2="510.40" y2="919.40" stroke="#000" stroke-width="1.7"/>
<line x1="510.40" y1="537.15" x2="510.40" y2="545.15" stroke="#000" stroke-width="1.7"/>
<line x1="565.00" y1="911.40" x2="565.00" y2="915.90" stroke="#000" stroke-width="1.7"/>
<line x1="565.00" y1="537.15" x2="565.00" y2="541.65" stroke="#000" stroke-width="1.7"/>
<line x1="62.40" y1="911.20" x2="66.60" y2="911.20" stroke="#000" stroke-width="1.7"/>
<line x1="59.10" y1="889.20" x2="66.60" y2="889.20" stroke="#000" stroke-width="1.7"/>
<line x1="589.40" y1="889.20" x2="597.20" y2="889.20" stroke="#000" stroke-width="1.7"/>
<line x1="62.40" y1="867.20" x2="66.60" y2="867.20" stroke="#000" stroke-width="1.7"/>
<line x1="59.10" y1="845.20" x2="66.60" y2="845.20" stroke="#000" stroke-width="1.7"/>
<line x1="593.00" y1="845.20" x2="597.20" y2="845.20" stroke="#000" stroke-width="1.7"/>
<line x1="62.40" y1="823.20" x2="66.60" y2="823.20" stroke="#000" stroke-width="1.7"/>
<line x1="59.10" y1="801.20" x2="66.60" y2="801.20" stroke="#000" stroke-width="1.7"/>
<line x1="589.40" y1="801.20" x2="597.20" y2="801.20" stroke="#000" stroke-width="1.7"/>
<line x1="62.40" y1="779.20" x2="66.60" y2="779.20" stroke="#000" stroke-width="1.7"/>
<line x1="59.10" y1="757.20" x2="66.60" y2="757.20" stroke="#000" stroke-width="1.7"/>
<line x1="593.00" y1="757.20" x2="597.20" y2="757.20" stroke="#000" stroke-width="1.7"/>
<line x1="62.40" y1="735.20" x2="66.60" y2="735.20" stroke="#000" stroke-width="1.7"/>
<line x1="59.10" y1="713.20" x2="66.60" y2="713.20" stroke="#000" stroke-width="1.7"/>
<line x1="589.40" y1="713.20" x2="597.20" y2="713.20" stroke="#000" stroke-width="1.7"/>
<line x1="62.40" y1="691.20" x2="66.60" y2="691.20" stroke="#000" stroke-width="1.7"/>
<line x1="59.10" y1="669.20" x2="66.60" y2="669.20" stroke="#000" stroke-width="1.7"/>
<line x1="593.00" y1="669.20" x2="597.20" y2="669.20" stroke="#000" stroke-width="1.7"/>
<line x1="62.40" y1="647.20" x2="66.60" y2="647.20" stroke="#000" stroke-width="1.7"/>
<line x1="59.10" y1="625.20" x2="66.60" y2="625.20" stroke="#000" stroke-width="1.7"/>
<line x1="589.40" y1="625.20" x2="597.20" y2="625.20" stroke="#000" stroke-width="1.7"/>
<line x1="62.40" y1="603.20" x2="66.60" y2="603.20" stroke="#000" stroke-width="1.7"/>
<line x1="59.10" y1="581.20" x2="66.60" y2="581.20" stroke="#000" stroke-width="1.7"/>
<line x1="593.00" y1="581.20" x2="597.20" y2="581.20" stroke="#000" stroke-width="1.7"/>
<line x1="62.40" y1="559.20" x2="66.60" y2="559.20" stroke="#000" stroke-width="1.7"/>
<line x1="59.10" y1="537.20" x2="66.60" y2="537.20" stroke="#000" stroke-width="1.7"/>
<line x1="589.40" y1="537.20" x2="597.20" y2="537.20" stroke="#000" stroke-width="1.7"/>
<text transform="translate(22.81,543.20) scale(1.0244,1)" font-family="Liberation Serif" font-weight="normal" font-style="normal" font-size="17.70" fill="#000">0.06</text>
<text transform="translate(22.81,587.20) scale(1.0301,1)" font-family="Liberation Serif" font-weight="normal" font-style="normal" font-size="17.70" fill="#000">0.05</text>
<text transform="translate(22.82,631.20) scale(1.0158,1)" font-family="Liberation Serif" font-weight="normal" font-style="normal" font-size="17.70" fill="#000">0.04</text>
<text transform="translate(22.81,675.20) scale(1.0301,1)" font-family="Liberation Serif" font-weight="normal" font-style="normal" font-size="17.70" fill="#000">0.03</text>
<text transform="translate(22.80,719.20) scale(1.0401,1)" font-family="Liberation Serif" font-weight="normal" font-style="normal" font-size="17.70" fill="#000">0.02</text>
<text transform="translate(22.80,763.20) scale(1.0432,1)" font-family="Liberation Serif" font-weight="normal" font-style="normal" font-size="17.70" fill="#000">0.01</text>
<text transform="translate(22.81,807.20) scale(1.0295,1)" font-family="Liberation Serif" font-weight="normal" font-style="normal" font-size="17.70" fill="#000">0.00</text>
<text transform="translate(16.92,851.20) scale(1.0356,1)" font-family="Liberation Serif" font-weight="normal" font-style="normal" font-size="17.70" fill="#000">-0.01</text>
<text transform="translate(16.92,895.20) scale(1.0330,1)" font-family="Liberation Serif" font-weight="normal" font-style="normal" font-size="17.70" fill="#000">-0.02</text>
<text transform="translate(126.22,938.00) scale(1.0115,1)" font-family="Liberation Serif" font-weight="normal" font-style="normal" font-size="17.60" fill="#000">893.28</text>
<text transform="translate(321.02,938.00) scale(1.0119,1)" font-family="Liberation Serif" font-weight="normal" font-style="normal" font-size="17.60" fill="#000">893.65</text>
<text transform="translate(485.52,938.00) scale(1.0115,1)" font-family="Liberation Serif" font-weight="normal" font-style="normal" font-size="17.60" fill="#000">893.90</text>
<text transform="translate(243.32,971.50) scale(1.0197,1)" font-family="Liberation Serif" font-weight="normal" font-style="normal" font-size="23.30" fill="#000">Frequency</text>
<line x1="353.30" y1="976.55" x2="361.30" y2="954.95" stroke="#000" stroke-width="0.9" stroke-linecap="butt"/>
<text transform="translate(362.55,971.50) scale(0.9908,1)" font-family="Liberation Serif" font-weight="normal" font-style="normal" font-size="23.30" fill="#000">GHz</text>
<g transform="translate(16.9,788.7) rotate(-90)">
<text transform="translate(-0.89,0.00) scale(1.0577,1)" font-family="Liberation Serif" font-weight="normal" font-style="normal" font-size="23.30" fill="#000">Intensity</text>
<line x1="95.23" y1="5.20" x2="103.20" y2="-16.50" stroke="#000" stroke-width="0.9" stroke-linecap="butt"/>
<text transform="translate(104.81,0.00) scale(1.0001,1)" font-family="Liberation Serif" font-weight="normal" font-style="normal" font-size="23.30" fill="#000">mV</text>
</g>
<text transform="translate(67.57,507.90) scale(1.1617,1)" font-family="Liberation Serif" font-weight="bold" font-style="normal" font-size="16.60" fill="#ef0808">33</text>
<text transform="translate(85.59,523.50) scale(1.0941,1)" font-family="Liberation Serif" font-weight="bold" font-style="normal" font-size="27.60" fill="#ef0808">SO</text>
<text transform="translate(230.63,519.40) scale(1.0246,1)" font-family="Liberation Serif" font-weight="normal" font-style="italic" font-size="23.70" fill="#000">N</text>
<path d="M251.80,503.90 L253.70,504.40 L251.45,511.65 L250.45,511.25 Z" fill="#000"/>
<path d="M262.10,514.20 L280.90,514.20" stroke="#000" stroke-width="1.35" fill="none"/>
<path d="M268.20,508.80 Q265.00,512.60 261.60,514.20 Q265.00,515.80 268.20,519.60" stroke="#000" stroke-width="1.35" fill="none" stroke-linecap="round" stroke-linejoin="round"/>
<text transform="translate(291.18,519.40) scale(1.0363,1)" font-family="Liberation Serif" font-weight="normal" font-style="italic" font-size="23.70" fill="#000">N</text>
<path d="M312.30,503.90 L314.20,504.40 L311.70,511.90 L310.70,511.50 Z" fill="#000"/>
<path d="M319.30,503.90 L321.20,504.40 L318.70,511.90 L317.70,511.50 Z" fill="#000"/>
<rect x="329.20" y="511.05" width="14.40" height="1.3" fill="#555555"/>
<rect x="329.20" y="515.45" width="14.40" height="1.3" fill="#555555"/>
<text transform="translate(352.27,519.50) scale(0.9852,1)" font-family="Liberation Serif" font-weight="normal" font-style="normal" font-size="22.60" fill="#000">21</text>
<path d="M383.90,514.00 L402.80,514.00" stroke="#000" stroke-width="1.35" fill="none"/>
<path d="M390.00,508.60 Q386.80,512.40 383.40,514.00 Q386.80,515.60 390.00,519.40" stroke="#000" stroke-width="1.35" fill="none" stroke-linecap="round" stroke-linejoin="round"/>
<text transform="translate(408.49,519.50) scale(1.0122,1)" font-family="Liberation Serif" font-weight="normal" font-style="normal" font-size="22.60" fill="#000">20</text>
<text transform="translate(114.80,567.00) scale(0.9706,1)" font-family="Liberation Serif" font-weight="normal" font-style="normal" font-size="21.10" fill="#000">20</text>
<path d="M143.60,561.80 L160.50,561.80" stroke="#000" stroke-width="1.35" fill="none"/>
<path d="M149.30,556.80 Q146.50,560.20 143.10,561.80 Q146.50,563.40 149.30,566.80" stroke="#000" stroke-width="1.35" fill="none" stroke-linecap="round" stroke-linejoin="round"/>
<text transform="translate(168.05,567.00) scale(0.9956,1)" font-family="Liberation Serif" font-weight="normal" font-style="normal" font-size="21.10" fill="#000">19</text>
<text transform="translate(293.78,566.70) scale(0.9944,1)" font-family="Liberation Serif" font-weight="normal" font-style="normal" font-size="21.10" fill="#000">21</text>
<path d="M322.60,561.50 L339.50,561.50" stroke="#000" stroke-width="1.35" fill="none"/>
<path d="M328.30,556.50 Q325.50,559.90 322.10,561.50 Q325.50,563.10 328.30,566.50" stroke="#000" stroke-width="1.35" fill="none" stroke-linecap="round" stroke-linejoin="round"/>
<text transform="translate(348.02,566.70) scale(0.9448,1)" font-family="Liberation Serif" font-weight="normal" font-style="normal" font-size="21.10" fill="#000">20</text>
<text transform="translate(488.78,565.30) scale(0.9890,1)" font-family="Liberation Serif" font-weight="normal" font-style="normal" font-size="21.10" fill="#000">22</text>
<path d="M517.60,560.10 L534.50,560.10" stroke="#000" stroke-width="1.35" fill="none"/>
<path d="M523.30,555.10 Q520.50,558.50 517.10,560.10 Q520.50,561.70 523.30,565.10" stroke="#000" stroke-width="1.35" fill="none" stroke-linecap="round" stroke-linejoin="round"/>
<text transform="translate(543.00,565.30) scale(0.9680,1)" font-family="Liberation Serif" font-weight="normal" font-style="normal" font-size="21.10" fill="#000">21</text>
<text transform="translate(168.30,611.50) scale(0.9290,1)" font-family="Liberation Serif" font-weight="normal" font-style="italic" font-size="21.40" fill="#000">J</text>
<path d="M183.10,597.70 L185.00,598.20 L182.65,604.80 L181.65,604.40 Z" fill="#000"/>
<path d="M193.00,606.50 L210.40,606.50" stroke="#000" stroke-width="1.35" fill="none"/>
<path d="M198.70,601.50 Q195.90,604.90 192.50,606.50 Q195.90,608.10 198.70,611.50" stroke="#000" stroke-width="1.35" fill="none" stroke-linecap="round" stroke-linejoin="round"/>
<text transform="translate(218.84,611.50) scale(0.9540,1)" font-family="Liberation Serif" font-weight="normal" font-style="italic" font-size="21.40" fill="#000">J</text>
<path d="M233.10,597.30 L235.00,597.80 L233.10,604.20 L232.10,603.80 Z" fill="#000"/>
<path d="M240.60,597.30 L242.50,597.80 L240.15,604.20 L239.15,603.80 Z" fill="#000"/>
<rect x="249.50" y="603.77" width="13.70" height="1.25" fill="#555555"/>
<rect x="249.50" y="607.77" width="13.70" height="1.25" fill="#555555"/>
<path d="M86.30,803.75 L86.68,802.53 L87.21,800.80 L87.75,799.20 L88.25,797.79 L88.75,796.51 L89.20,795.80 L89.58,795.84 L89.91,796.44 L90.25,797.50 L90.60,799.50 L90.95,801.95 L91.30,803.30 L91.64,802.42 L91.98,800.44 L92.30,799.20 L92.62,799.76 L92.93,801.06 L93.20,801.70 L93.42,800.63 L93.61,798.90 L93.80,798.30 L93.99,800.28 L94.18,803.39 L94.40,805.00 L94.66,803.39 L94.94,800.28 L95.25,798.30 L95.59,798.95 L95.95,800.73 L96.30,801.70 L96.63,800.75 L96.95,799.00 L97.30,797.90 L97.71,798.12 L98.16,798.99 L98.60,800.00 L99.00,801.07 L99.40,802.27 L99.80,803.30 L100.23,804.13 L100.67,804.77 L101.10,805.00 L101.49,804.56 L101.87,803.71 L102.30,802.90 L102.84,802.36 L103.43,801.88 L104.00,801.25 L104.54,800.45 L105.06,799.51 L105.50,798.30 L105.83,796.28 L106.07,793.99 L106.30,792.90 L106.51,793.84 L106.69,795.97 L106.90,798.30 L107.16,801.03 L107.46,803.96 L107.75,805.40 L108.04,803.95 L108.32,801.03 L108.60,799.20 L108.86,799.93 L109.11,801.76 L109.40,802.90 L109.73,802.42 L110.10,801.25 L110.50,800.40 L110.93,800.26 L111.40,800.43 L111.90,800.80 L112.45,801.30 L113.03,801.98 L113.60,802.90 L114.17,804.29 L114.73,805.90 L115.25,807.10 L115.70,807.74 L116.10,807.97 L116.50,807.50 L116.93,805.66 L117.36,803.13 L117.75,801.70 L118.05,802.42 L118.31,804.24 L118.60,805.80 L118.97,806.54 L119.38,807.02 L119.80,807.50 L120.24,808.07 L120.70,808.64 L121.10,809.20 L121.40,809.83 L121.65,810.45 L121.90,810.80 L122.18,810.59 L122.46,810.11 L122.75,810.00 L123.02,810.65 L123.29,811.67 L123.60,812.50 L123.97,812.86 L124.38,813.03 L124.80,813.30 L125.24,813.77 L125.70,814.34 L126.10,815.00 L126.40,815.93 L126.65,816.95 L126.90,817.50 L127.18,817.03 L127.46,816.09 L127.75,815.80 L128.04,816.76 L128.32,818.38 L128.60,820.00 L128.88,821.30 L129.15,822.61 L129.40,824.20 L129.58,826.64 L129.74,829.36 L130.00,831.00 L130.43,830.47 L130.97,828.84 L131.50,828.00 L132.00,828.74 L132.50,830.26 L133.00,832.00 L133.50,833.89 L134.00,836.00 L134.50,838.00 L135.02,839.85 L135.54,841.59 L136.00,843.00 L136.35,844.06 L136.65,844.78 L137.00,845.00 L137.46,844.50 L137.98,843.50 L138.50,842.50 L139.02,841.76 L139.54,841.02 L140.00,840.00 L140.37,838.70 L140.69,837.13 L141.00,835.00 L141.34,832.04 L141.69,828.52 L142.00,825.00 L142.16,822.77 L142.29,820.53 L142.70,815.00 L143.63,803.56 L144.84,788.81 L145.90,775.30 L146.61,764.95 L147.17,755.83 L147.70,746.70 L148.23,736.74 L148.72,726.78 L149.20,718.00 L149.64,711.10 L150.08,705.38 L150.60,700.00 L151.28,694.39 L152.04,689.12 L152.80,685.00 L153.53,682.36 L154.26,680.87 L154.90,680.40 L155.39,680.20 L155.80,681.02 L156.30,685.00 L156.98,694.06 L157.74,706.27 L158.50,718.00 L159.20,727.89 L159.90,737.30 L160.60,746.70 L161.34,756.39 L162.09,766.06 L162.80,775.30 L163.46,784.18 L164.08,792.63 L164.60,800.00 L164.94,805.64 L165.19,810.21 L165.50,815.00 L165.97,820.96 L166.51,827.15 L167.00,832.00 L167.37,834.63 L167.69,835.93 L168.00,837.00 L168.31,838.07 L168.63,838.93 L169.00,840.00 L169.46,841.85 L169.98,843.93 L170.50,845.00 L171.02,844.24 L171.54,842.48 L172.00,841.00 L172.35,840.20 L172.65,839.69 L173.00,839.50 L173.46,839.98 L173.98,840.80 L174.50,841.00 L175.00,840.11 L175.50,838.61 L176.00,837.00 L176.50,835.30 L177.00,833.48 L177.50,832.00 L178.02,831.22 L178.54,830.78 L179.00,830.00 L179.39,828.53 L179.71,826.72 L180.00,825.00 L180.23,823.57 L180.41,822.23 L180.60,820.80 L180.78,819.04 L180.96,817.19 L181.25,815.80 L181.72,815.29 L182.31,815.24 L182.90,815.00 L183.46,814.26 L184.04,813.34 L184.60,812.50 L185.17,812.06 L185.73,811.70 L186.25,810.80 L186.70,808.72 L187.10,806.09 L187.50,804.20 L187.90,803.77 L188.30,804.08 L188.75,804.20 L189.28,803.71 L189.86,803.03 L190.40,802.50 L190.86,802.32 L191.29,802.28 L191.70,802.10 L192.10,801.55 L192.50,800.86 L192.90,800.40 L193.34,800.36 L193.80,800.55 L194.20,800.80 L194.50,801.21 L194.75,801.67 L195.00,801.70 L195.26,800.83 L195.53,799.54 L195.80,798.75 L196.10,799.30 L196.40,800.36 L196.70,800.40 L196.97,798.13 L197.24,794.84 L197.50,792.90 L197.75,793.66 L198.00,795.77 L198.30,797.50 L198.70,798.01 L199.16,798.15 L199.60,798.75 L200.01,800.68 L200.42,803.07 L200.80,804.20 L201.13,802.95 L201.44,800.44 L201.80,798.30 L202.25,797.06 L202.74,796.20 L203.20,795.80 L203.57,796.09 L203.91,796.84 L204.30,797.50 L204.78,797.83 L205.30,798.06 L205.80,798.30 L206.25,798.52 L206.68,798.75 L207.10,799.20 L207.50,800.17 L207.90,801.37 L208.30,802.10 L208.73,802.08 L209.17,801.60 L209.60,800.80 L210.02,799.43 L210.43,797.75 L210.80,796.70 L211.13,796.61 L211.43,797.15 L211.70,798.30 L211.91,800.84 L212.09,804.00 L212.30,805.40 L212.57,803.32 L212.87,799.48 L213.20,796.70 L213.55,796.20 L213.93,796.76 L214.30,797.50 L214.68,798.11 L215.05,798.92 L215.40,800.00 L215.67,801.67 L215.92,803.61 L216.25,805.00 L216.75,805.32 L217.35,805.09 L217.90,805.00 L218.36,805.52 L218.79,806.19 L219.20,806.25 L219.65,805.11 L220.09,803.38 L220.40,802.10" stroke="#000" stroke-width="1.3" fill="none" stroke-linejoin="round"/>
<path d="M263.30,794.60 L263.64,795.18 L264.13,795.99 L264.60,796.70 L264.99,797.23 L265.37,797.65 L265.80,797.90 L266.33,797.86 L266.91,797.63 L267.50,797.50 L268.09,797.68 L268.67,797.95 L269.20,797.90 L269.62,797.31 L269.98,796.40 L270.40,795.40 L270.95,794.18 L271.55,792.86 L272.10,792.10 L272.52,792.30 L272.88,793.05 L273.30,793.75 L273.85,794.14 L274.45,794.48 L275.00,795.00 L275.45,795.97 L275.85,797.12 L276.25,797.90 L276.67,797.97 L277.08,797.67 L277.50,797.50 L277.94,797.60 L278.39,797.83 L278.75,798.30 L278.96,799.37 L279.10,800.68 L279.30,801.25 L279.60,800.36 L279.97,798.72 L280.40,797.50 L280.94,797.24 L281.55,797.39 L282.10,797.50 L282.53,797.41 L282.91,797.28 L283.30,797.10 L283.74,796.68 L284.20,796.21 L284.60,796.25 L284.89,797.16 L285.11,798.58 L285.40,800.00 L285.80,801.34 L286.26,802.69 L286.70,803.75 L287.12,804.58 L287.53,805.14 L287.90,805.00 L288.21,803.75 L288.48,801.81 L288.75,800.00 L289.02,798.44 L289.30,797.02 L289.60,796.25 L289.94,796.67 L290.30,797.74 L290.70,798.30 L291.15,797.63 L291.64,796.46 L292.10,795.80 L292.50,796.14 L292.87,797.00 L293.30,797.90 L293.86,798.66 L294.47,799.46 L295.00,800.40 L295.40,801.59 L295.71,802.92 L296.00,804.20 L296.24,805.61 L296.44,806.97 L296.70,807.50 L297.06,806.37 L297.47,804.41 L297.90,803.30 L298.31,803.87 L298.74,805.29 L299.20,806.70 L299.74,807.78 L300.31,808.85 L300.80,810.00 L301.11,811.31 L301.34,812.69 L301.70,814.00 L302.31,815.13 L303.04,816.17 L303.70,817.30 L304.21,818.53 L304.64,819.84 L305.00,821.30 L305.28,822.95 L305.50,824.76 L305.70,826.70 L305.87,829.04 L306.02,831.51 L306.30,833.30 L306.81,833.67 L307.44,833.36 L308.00,833.70 L308.37,835.33 L308.67,837.61 L309.00,840.00 L309.39,842.33 L309.80,844.78 L310.30,847.30 L310.93,849.94 L311.63,852.65 L312.30,855.30 L312.91,858.06 L313.50,860.76 L314.00,862.70 L314.37,863.46 L314.67,863.47 L315.00,863.30 L315.40,863.11 L315.83,862.74 L316.30,862.30 L316.87,862.03 L317.49,861.69 L318.00,860.70 L318.30,858.76 L318.48,856.17 L318.70,853.30 L319.01,850.16 L319.36,846.73 L319.70,843.30 L320.04,839.97 L320.38,836.63 L320.70,833.30 L320.98,830.01 L321.24,826.73 L321.50,823.30 L321.77,820.51 L322.04,817.57 L322.30,812.00 L322.47,803.18 L322.62,791.73 L323.00,777.00 L323.71,757.69 L324.64,735.09 L325.70,712.50 L327.01,689.41 L328.45,666.31 L329.60,648.00 L330.21,637.29 L330.53,631.36 L330.90,626.50 L331.44,620.97 L332.02,616.53 L332.60,614.70 L333.17,616.53 L333.74,620.97 L334.30,626.50 L334.77,631.36 L335.24,637.29 L335.90,648.00 L336.92,666.31 L338.14,689.41 L339.30,712.50 L340.34,735.35 L341.31,758.20 L342.10,777.00 L342.60,789.52 L342.92,797.98 L343.20,805.00 L343.48,810.96 L343.73,815.48 L344.00,820.00 L344.33,825.07 L344.67,830.15 L345.00,835.00 L345.27,839.59 L345.53,843.96 L345.80,848.00 L346.11,851.81 L346.44,855.30 L346.80,858.00 L347.17,859.44 L347.57,860.11 L348.00,861.00 L348.48,862.81 L348.99,864.85 L349.50,866.00 L350.00,865.67 L350.50,864.44 L351.00,863.00 L351.50,861.44 L352.00,859.67 L352.50,858.00 L353.00,856.74 L353.50,855.59 L354.00,854.00 L354.50,851.67 L355.00,848.89 L355.50,846.00 L356.00,843.04 L356.50,839.96 L357.00,837.00 L357.51,834.26 L358.01,831.63 L358.50,829.00 L358.95,826.19 L359.38,823.37 L359.80,821.00 L360.21,819.35 L360.60,818.15 L361.00,817.00 L361.38,815.67 L361.76,814.39 L362.20,813.50 L362.77,813.44 L363.40,813.78 L364.00,813.50 L364.52,812.02 L365.01,809.93 L365.50,808.00 L365.98,806.43 L366.46,805.02 L367.00,804.00 L367.65,803.65 L368.35,803.69 L369.00,803.50 L369.54,802.72 L370.02,801.72 L370.50,801.00 L371.00,800.89 L371.50,801.06 L372.00,801.00 L372.52,800.37 L373.04,799.52 L373.50,799.00 L373.87,799.02 L374.19,799.37 L374.50,800.00 L374.82,801.39 L375.14,803.06 L375.50,803.50 L375.91,801.46 L376.35,798.20 L376.80,796.00 L377.26,796.15 L377.74,797.35 L378.20,798.00 L378.63,797.20 L379.06,795.85 L379.50,795.00 L379.97,795.19 L380.47,795.87 L381.00,796.50 L381.58,796.89 L382.20,797.22 L382.80,797.50 L383.36,797.67 L383.91,797.78 L384.50,798.00 L385.16,798.69 L385.86,799.48 L386.50,799.50 L387.03,797.96 L387.50,795.65 L388.00,794.00 L388.59,793.78 L389.22,794.22 L389.80,794.50 L390.30,794.13 L390.76,793.59 L391.20,793.50 L391.69,794.31 L392.17,795.57 L392.50,796.50" stroke="#000" stroke-width="1.3" fill="none" stroke-linejoin="round"/>
<path d="M457.50,790.40 L457.70,790.36 L458.00,790.37 L458.30,790.80 L458.57,791.98 L458.85,793.59 L459.20,795.00 L459.67,796.30 L460.21,797.41 L460.70,797.50 L461.08,795.82 L461.40,793.12 L461.70,790.80 L461.98,788.86 L462.24,787.30 L462.50,787.50 L462.75,791.04 L463.00,796.33 L463.30,800.00 L463.70,800.33 L464.16,799.04 L464.60,797.90 L465.02,797.45 L465.43,797.14 L465.80,797.10 L466.10,797.36 L466.37,797.89 L466.70,798.75 L467.16,800.34 L467.69,802.26 L468.20,803.30 L468.68,802.74 L469.15,801.30 L469.60,800.00 L470.01,799.18 L470.40,798.49 L470.80,797.90 L471.21,797.34 L471.64,796.89 L472.10,796.70 L472.62,796.94 L473.19,797.44 L473.75,797.90 L474.31,798.21 L474.87,798.48 L475.40,798.75 L475.90,799.16 L476.36,799.56 L476.80,799.60 L477.18,798.63 L477.52,797.29 L477.90,797.10 L478.36,799.47 L478.84,803.00 L479.30,805.00 L479.68,803.91 L480.03,801.31 L480.40,799.20 L480.84,798.37 L481.30,798.04 L481.70,797.90 L482.00,797.74 L482.24,797.76 L482.50,798.30 L482.80,800.00 L483.12,802.20 L483.50,803.30 L483.96,802.31 L484.48,800.21 L485.00,798.30 L485.50,796.84 L486.01,795.58 L486.50,795.00 L486.98,795.66 L487.44,797.01 L487.90,797.90 L488.37,797.61 L488.82,796.86 L489.20,796.70 L489.44,797.64 L489.60,799.17 L489.80,800.80 L490.09,802.75 L490.43,804.81 L490.80,805.80 L491.20,804.85 L491.63,802.85 L492.10,801.25 L492.62,800.65 L493.19,800.45 L493.75,800.40 L494.32,800.27 L494.89,800.28 L495.40,800.80 L495.80,802.25 L496.13,804.21 L496.50,805.80 L496.96,806.52 L497.46,806.87 L497.90,807.50 L498.22,808.69 L498.49,810.15 L498.75,811.70 L499.05,813.26 L499.35,814.91 L499.60,816.70 L499.74,818.76 L499.83,820.96 L500.00,822.90 L500.30,824.47 L500.69,825.79 L501.10,826.80 L501.56,827.23 L502.04,827.35 L502.50,827.90 L502.89,829.17 L503.24,830.87 L503.60,832.90 L503.97,835.43 L504.35,838.27 L504.70,840.80 L505.00,842.71 L505.29,844.29 L505.60,845.80 L505.98,847.23 L506.40,848.58 L506.80,850.10 L507.16,851.87 L507.51,853.81 L507.90,855.90 L508.34,858.17 L508.81,860.58 L509.30,863.00 L509.79,865.53 L510.30,868.06 L510.80,870.20 L511.32,871.93 L511.84,873.27 L512.30,873.80 L512.67,873.07 L512.98,871.53 L513.30,870.20 L513.66,869.44 L514.02,868.88 L514.40,868.40 L514.81,868.20 L515.23,868.09 L515.60,867.30 L515.90,865.43 L516.15,862.90 L516.40,860.20 L516.66,857.55 L516.93,854.74 L517.20,851.60 L517.50,847.87 L517.82,843.83 L518.10,840.10 L518.33,837.10 L518.52,834.41 L518.70,831.50 L518.82,829.49 L518.93,827.24 L519.20,820.80 L519.69,808.34 L520.34,791.69 L521.10,772.40 L521.99,750.13 L523.00,725.22 L524.00,700.30 L524.97,675.04 L525.95,649.76 L526.90,628.10 L527.81,609.52 L528.70,594.55 L529.60,588.40 L530.52,594.55 L531.46,609.52 L532.40,628.10 L533.35,649.76 L534.31,675.04 L535.30,700.30 L536.42,725.99 L537.58,751.67 L538.50,772.40 L539.04,785.34 L539.36,793.33 L539.60,800.00 L539.79,805.94 L539.92,810.55 L540.10,815.70 L540.37,822.26 L540.70,829.34 L541.10,836.20 L541.59,842.64 L542.15,848.85 L542.70,854.60 L543.21,859.86 L543.72,864.66 L544.20,868.90 L544.65,872.80 L545.07,876.13 L545.50,878.10 L545.93,878.16 L546.37,876.86 L546.80,875.10 L547.22,872.74 L547.64,869.92 L548.10,867.90 L548.64,867.71 L549.23,868.31 L549.80,867.90 L550.34,865.55 L550.88,862.18 L551.40,858.70 L551.93,855.34 L552.44,851.87 L552.90,848.50 L553.25,845.21 L553.54,842.03 L553.90,839.20 L554.40,836.86 L554.97,834.87 L555.50,833.10 L555.91,831.54 L556.29,830.21 L556.70,829.00 L557.21,828.11 L557.77,827.34 L558.30,826.00 L558.75,823.44 L559.16,820.31 L559.60,817.80 L560.09,816.65 L560.59,816.12 L561.10,815.20 L561.56,813.30 L562.02,811.00 L562.60,809.10 L563.39,807.80 L564.29,806.90 L565.20,806.50 L566.07,807.09 L566.94,808.19 L567.80,808.50 L568.66,807.17 L569.50,805.06 L570.30,803.40 L571.05,802.84 L571.76,802.74 L572.40,802.40 L572.93,801.48 L573.40,800.33 L573.90,799.30 L574.46,798.40 L575.05,797.63 L575.70,797.30 L576.44,797.78 L577.24,798.71 L578.00,799.30 L578.70,799.02 L579.37,798.40 L580.00,798.30 L580.57,799.44 L581.09,801.10 L581.60,801.90 L582.13,801.03 L582.64,799.30 L583.10,797.80 L583.46,796.74 L583.76,795.90 L584.10,795.70 L584.53,796.72 L584.99,798.38 L585.40,799.30 L585.70,798.72 L585.94,797.40 L586.20,796.30 L586.56,795.75 L586.93,795.41 L587.20,795.20" stroke="#000" stroke-width="1.3" fill="none" stroke-linejoin="round"/>
</svg></body></html>
